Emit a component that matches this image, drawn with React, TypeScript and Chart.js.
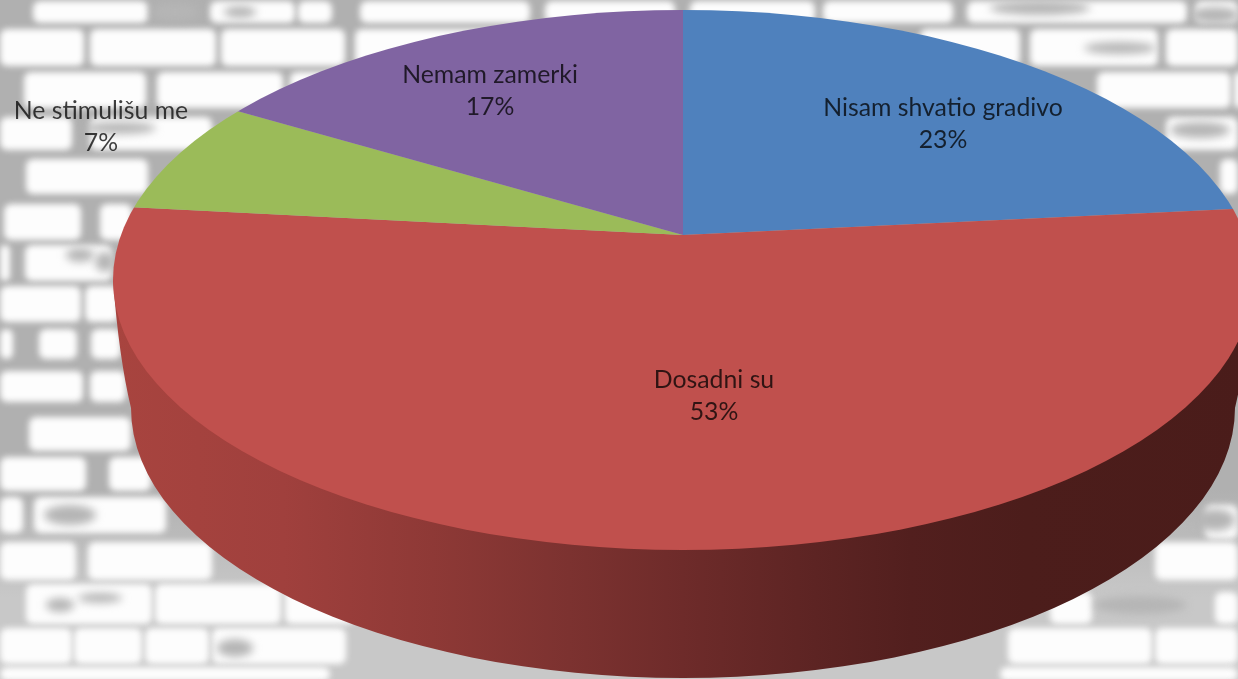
import React, { useEffect, useRef } from "react";
import { Chart, registerables } from "chart.js";

Chart.register(...registerables);

const categories = ["Nisam shvatio gradivo", "Dosadni su", "Ne stimulišu me", "Nemam zamerki"];
const shares = [23.4, 53.3, 6.8, 16.5];
const sliceColors = ["#4f81bd", "#c0504d", "#9bbb59", "#8064a2"];
const labelAnchors = [
  [943, 108],
  [714, 380],
  [101, 111],
  [490, 75],
];

// Perspective of the pie disc
const APEX = { x: 683, y: 235 };
const TILT = 0.47;
const TOP_DISC = { x: 683, y: 280, rx: 570, ry: 270 };
const BOTTOM_DISC = { x: 683, y: 408, rx: 552, ry: 270 };
const wallStops: [number, string][] = [
  [0.0, "#a8443f"],
  [0.15, "#a0403d"],
  [0.28, "#8e3936"],
  [0.4, "#7c3230"],
  [0.5, "#6e2b2a"],
  [0.6, "#5f2524"],
  [0.7, "#521f1e"],
  [0.8, "#4c1d1b"],
  [1.0, "#4a1c1a"],
];

// Decorative brick wall: y, height, then x/width pairs
const wallRows: [number, number, number[]][] = [
  [1, 22, [33, 115, 210, 85, 298, 34, 360, 170, 545, 130, 690, 125, 823, 130, 967, 220, 1195, 43]],
  [29, 37, [0, 84, 90, 126, 221, 124, 355, 150, 920, 100, 1030, 128, 1166, 72]],
  [72, 36, [24, 122, 157, 126, 290, 62, 1097, 134, 1234, 10]],
  [117, 33, [0, 72, 90, 122, 1166, 72]],
  [159, 35, [26, 122, 1220, 18]],
  [204, 36, [4, 77, 100, 32]],
  [245, 36, [0, 10, 25, 87]],
  [286, 36, [0, 81, 85, 34]],
  [329, 30, [0, 13, 39, 38, 91, 30]],
  [371, 31, [0, 83, 90, 36]],
  [417, 34, [29, 102]],
  [457, 34, [0, 86, 109, 42]],
  [497, 36, [0, 23, 34, 132]],
  [505, 34, [1205, 33]],
  [542, 38, [0, 76, 88, 124, 1155, 83]],
  [584, 40, [26, 126, 155, 126, 285, 70]],
  [592, 32, [1050, 42, 1215, 23]],
  [628, 36, [0, 72, 74, 68, 145, 64, 212, 134, 1008, 144, 1155, 83]],
  [667, 14, [0, 330, 1000, 238]],
];
// Grey smudges on the bricks: x, y, rx, ry
const smudges: number[][] = [
  [175, 12, 24, 9], [240, 12, 16, 6], [80, 255, 14, 7], [105, 262, 10, 10], [120, 128, 36, 6],
  [1040, 8, 50, 7], [1120, 48, 36, 6], [1200, 130, 30, 8], [1215, 15, 24, 8], [60, 605, 14, 7],
  [100, 598, 22, 5], [235, 648, 18, 9], [1140, 605, 46, 9], [1215, 520, 20, 11], [70, 515, 26, 10],
];

const wallPlugin = {
  id: "brickWall",
  beforeDraw(chart: any) {
    const { ctx, width, height } = chart;
    ctx.save();
    const base = ctx.createLinearGradient(0, 0, 0, height);
    base.addColorStop(0, "#b0b0b0");
    base.addColorStop(0.72, "#b0b0b0");
    base.addColorStop(0.88, "#c8c8c8");
    base.addColorStop(1, "#c8c8c8");
    ctx.fillStyle = base;
    ctx.fillRect(0, 0, width, height);
    ctx.filter = "blur(3px)";
    ctx.fillStyle = "#fdfdfd";
    for (const [y, h, spans] of wallRows) {
      for (let i = 0; i < spans.length; i += 2) {
        ctx.beginPath();
        ctx.roundRect(spans[i], y, spans[i + 1], h, 7);
        ctx.fill();
      }
    }
    ctx.filter = "blur(4px)";
    ctx.fillStyle = "#b5b5b5";
    for (const [x, y, rx, ry] of smudges) {
      ctx.beginPath();
      ctx.ellipse(x, y, rx, ry, 0, 0, Math.PI * 2);
      ctx.fill();
    }
    ctx.restore();
  },
};

const pie3dPlugin = {
  id: "pie3d",
  beforeDatasetsDraw(chart: any) {
    const { ctx } = chart;
    const arc = chart.getDatasetMeta(0).data[0];
    const left = BOTTOM_DISC.x - TOP_DISC.rx;
    const right = BOTTOM_DISC.x + TOP_DISC.rx;
    ctx.save();
    const g = ctx.createLinearGradient(left, 0, right, 0);
    for (const [s, c] of wallStops) g.addColorStop(s, c);
    ctx.fillStyle = g;
    ctx.beginPath();
    ctx.moveTo(TOP_DISC.x - TOP_DISC.rx, TOP_DISC.y);
    ctx.quadraticCurveTo(TOP_DISC.x - TOP_DISC.rx + 6, BOTTOM_DISC.y - 50, BOTTOM_DISC.x - BOTTOM_DISC.rx, BOTTOM_DISC.y);
    ctx.ellipse(BOTTOM_DISC.x, BOTTOM_DISC.y, BOTTOM_DISC.rx, BOTTOM_DISC.ry, 0, Math.PI, 0, true);
    ctx.quadraticCurveTo(TOP_DISC.x + TOP_DISC.rx - 6, BOTTOM_DISC.y - 50, TOP_DISC.x + TOP_DISC.rx, TOP_DISC.y);
    ctx.closePath();
    ctx.fill();
    ctx.restore();

    ctx.save();
    ctx.beginPath();
    ctx.ellipse(TOP_DISC.x, TOP_DISC.y, TOP_DISC.rx, TOP_DISC.ry, 0, 0, Math.PI * 2);
    ctx.clip();
    ctx.translate(APEX.x, APEX.y);
    ctx.scale(1, TILT);
    ctx.translate(-arc.x, -arc.y);
  },
  afterDatasetsDraw(chart: any) {
    chart.ctx.restore();
  },
  afterDraw(chart: any) {
    const { ctx } = chart;
    const total = shares.reduce((a, b) => a + b, 0);
    ctx.save();
    ctx.font = '24.8px Lato, "Open Sans", sans-serif';
    ctx.textAlign = "center";
    ctx.textBaseline = "middle";
    ctx.fillStyle = "rgba(0,0,0,0.75)";
    ctx.filter = "blur(0.4px)";
    categories.forEach((name, i) => {
      const [x, y] = labelAnchors[i];
      ctx.fillText(name, x, y);
      ctx.fillText(`${Math.round((shares[i] / total) * 100)}%`, x, y + 32);
    });
    ctx.restore();
  },
};

export default function App() {
  const ref = useRef<HTMLCanvasElement>(null);
  useEffect(() => {
    const chart = new Chart(ref.current as HTMLCanvasElement, {
      type: "pie",
      data: {
        labels: categories,
        datasets: [
          {
            data: shares,
            backgroundColor: sliceColors,
            borderWidth: 0,
            clip: false,
          } as any,
        ],
      },
      options: {
        responsive: false,
        animation: false,
        radius: 1500,
        layout: { padding: 0 },
        plugins: { legend: { display: false }, tooltip: { enabled: false }, title: { display: false } },
      } as any,
      plugins: [wallPlugin, pie3dPlugin],
    });
    return () => chart.destroy();
  }, []);
  return (
    <div style={{ position: "fixed", left: 0, top: 0, width: 1238, height: 679, overflow: "hidden" }}>
      <canvas ref={ref} width={1238} height={679} style={{ display: "block" }} />
    </div>
  );
}
